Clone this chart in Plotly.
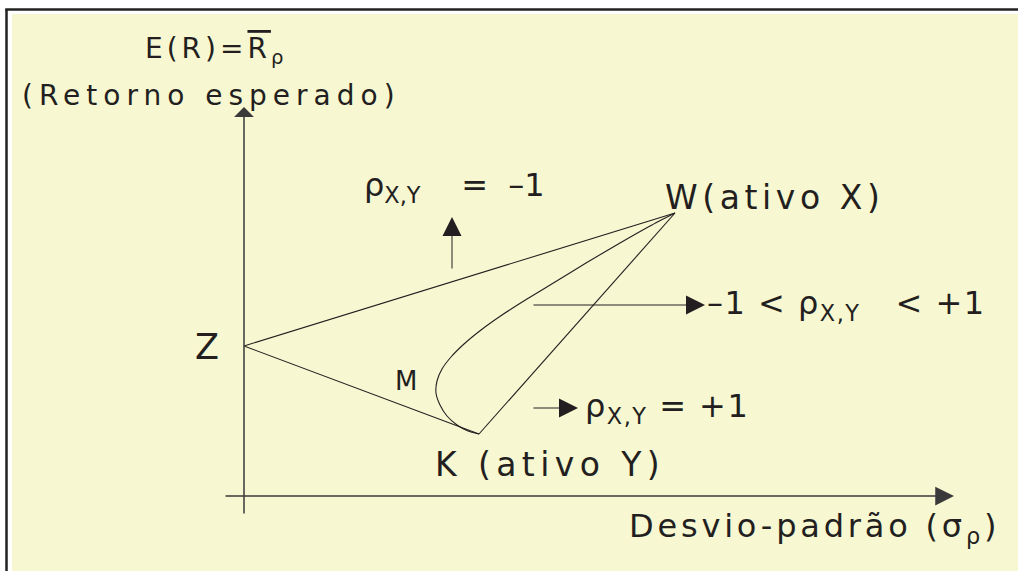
import plotly.graph_objects as go

# ---------------- data (σ = desvio-padrão, E(R) = retorno esperado) ----------------
# key points of the diagram
point_labels = ["Z", "K", "W"]
point_sigma = [0.0, 11.75, 21.55]
point_return = [7.5, 3.1, 14.15]

# ρ = -1 : W -> Z -> K
rho_neg_sigma = [21.55, 0.0, 11.75]
rho_neg_return = [14.15, 7.5, 3.1]

# ρ = +1 : K -> W
rho_pos_sigma = [11.75, 21.55]
rho_pos_return = [3.1, 14.15]

# -1 < ρ < +1 : curve from K to W (through M)
curve_sigma = [11.75, 11.20, 10.65, 10.15, 9.80, 9.60, 9.65, 9.90, 10.35, 11.00,
               11.85, 12.90, 14.15, 15.55, 17.10, 18.80, 20.30, 21.55]
curve_return = [3.10, 3.25, 3.55, 4.00, 4.55, 5.15, 5.75, 6.35, 6.95, 7.60,
                8.30, 9.05, 9.85, 10.70, 11.65, 12.65, 13.50, 14.15]

# axes (start, arrow tip)
x_axis_sigma = [-1.0, 35.5]
x_axis_return = [0.0, 0.0]
y_axis_sigma = [0.0, 0.0]
y_axis_return = [-0.95, 19.45]

# pointer arrows (tail -> tip)
pointer_tail_sigma = [10.4, 14.4, 14.4]
pointer_tail_return = [11.3, 9.55, 4.4]
pointer_tip_sigma = [10.4, 23.05, 16.7]
pointer_tip_return = [13.95, 9.55, 4.4]

# text labels
NB = "\u00a0"
label_texts = [
    "E(R)=<span style='text-decoration:overline'>R</span><sub>ρ</sub>",
    "(Retorno esperado)",
    "ρ<sub>X,Y</sub>" + NB * 4 + "=" + NB * 2 + "–1",
    "W(ativo X)",
    "–1 < ρ<sub>X,Y</sub>" + NB * 2 + " < +1",
    "Z",
    "M",
    "ρ<sub>X,Y</sub> = +1",
    "K (ativo Y)",
    "Desvio-padrão (σ<sub>ρ</sub>)",
]
label_sigma = [-5.05, -11.2, 5.9, 20.95, 23.05, -2.55, 7.45, 16.95, 9.45, 19.15]
label_return = [22.3, 20.05, 15.45, 14.95, 9.55, 7.45, 5.75, 4.4, 1.6, -1.6]

# ---------------- styling ----------------
INK = "#231F20"
AXIS = "#3a3a3a"
FONT = "DejaVu Sans"
label_sizes = [28, 28, 32, 33, 32, 35, 26, 32, 33, 32]
label_spacing = [4, 6, 0, 4.6, 1.5, 0, 0, 1.5, 5.4, 3.8]

fig = go.Figure()

fig.add_trace(go.Scatter(x=rho_neg_sigma, y=rho_neg_return, mode="lines",
                         line=dict(color=INK, width=1.1), hoverinfo="skip",
                         showlegend=False))
fig.add_trace(go.Scatter(x=rho_pos_sigma, y=rho_pos_return, mode="lines",
                         line=dict(color=INK, width=1.1), hoverinfo="skip",
                         showlegend=False))
fig.add_trace(go.Scatter(x=curve_sigma, y=curve_return, mode="lines",
                         line=dict(color=INK, width=1.1, shape="spline", smoothing=0.6),
                         hoverinfo="skip", showlegend=False))

annotations = []
# axes as arrows
annotations.append(dict(x=x_axis_sigma[1], y=x_axis_return[1], ax=x_axis_sigma[0], ay=x_axis_return[0],
                        xref="x", yref="y", axref="x", ayref="y", text="", showarrow=True,
                        arrowhead=2, arrowsize=2.5, arrowwidth=1.5, arrowcolor=AXIS))
annotations.append(dict(x=y_axis_sigma[1], y=y_axis_return[1], ax=y_axis_sigma[0], ay=y_axis_return[0],
                        xref="x", yref="y", axref="x", ayref="y", text="", showarrow=True,
                        arrowhead=1, arrowsize=2.2, arrowwidth=1.5, arrowcolor=AXIS))
for ts, tr, hs, hr in zip(pointer_tail_sigma, pointer_tail_return, pointer_tip_sigma, pointer_tip_return):
    annotations.append(dict(x=hs, y=hr, ax=ts, ay=tr, xref="x", yref="y", axref="x", ayref="y",
                            text="", showarrow=True, arrowhead=2, arrowsize=3.8, arrowwidth=1.0,
                            arrowcolor=INK))

for txt, s, r, fs, sp in zip(label_texts, label_sigma, label_return, label_sizes, label_spacing):
    if sp:
        txt = f"<span style='letter-spacing:{sp}px'>{txt}</span>"
    annotations.append(dict(x=s, y=r, xref="x", yref="y", text=txt, showarrow=False,
                            xanchor="left", yanchor="middle",
                            font=dict(family=FONT, size=fs, color=INK)))

W, H = 1018, 571
shapes = [
    dict(type="rect", xref="paper", yref="paper", x0=12 / W, x1=1, y0=0, y1=1 - 14 / H,
         fillcolor="#F7F7D1", line=dict(width=0), layer="below"),
    dict(type="line", xref="paper", yref="paper", x0=6.5 / W, x1=6.5 / W, y0=0, y1=1 - 9 / H,
         line=dict(color="#222222", width=2.5), layer="below"),
    dict(type="line", xref="paper", yref="paper", x0=5.3 / W, x1=1, y0=1 - 9.5 / H, y1=1 - 9.5 / H,
         line=dict(color="#222222", width=2.5), layer="below"),
]

fig.update_layout(
    width=W, height=H,
    margin=dict(l=0, r=0, t=0, b=0),
    paper_bgcolor="white",
    plot_bgcolor="rgba(0,0,0,0)",
    xaxis=dict(range=[-12.2, 38.7], visible=False, fixedrange=True),
    yaxis=dict(range=[-3.75, 24.8], visible=False, fixedrange=True),
    annotations=annotations,
    shapes=shapes,
    showlegend=False,
)

fig.write_html(
    "out.html",
    config={"displayModeBar": False, "staticPlot": True},
    post_script="document.body.style.margin='0';document.documentElement.style.overflow='hidden';",
)
